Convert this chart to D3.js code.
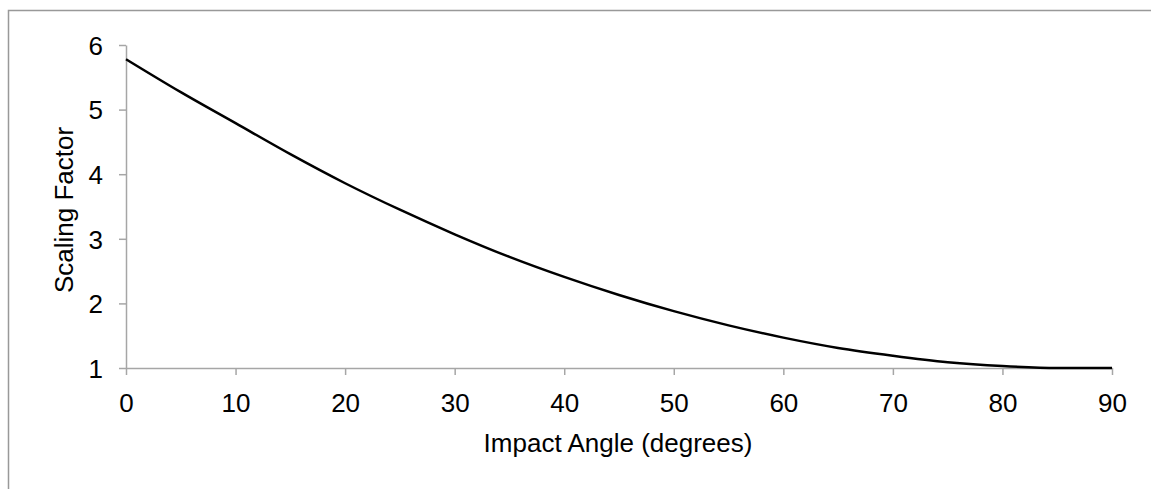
<!DOCTYPE html>
<html>
<head>
<meta charset="utf-8">
<script src="https://cdn.jsdelivr.net/npm/d3@7"></script>
<style>
  body { margin: 0; background: #fff; }
  text { font-family: "Liberation Sans", Arial, sans-serif; }
</style>
</head>
<body>
<div id="canvas"></div>
<script>
// angles (degrees) and scaling factor
const angles = [0, 5, 10, 15, 20, 25, 30, 35, 40, 45, 50, 55, 60, 65, 70, 75, 80, 85, 90];
const factors = [5.78, 5.27, 4.79, 4.31, 3.86, 3.45, 3.07, 2.72, 2.41, 2.13, 1.88, 1.66, 1.47, 1.31, 1.19, 1.09, 1.03, 1.0, 1.0];
const xTicks = [0, 10, 20, 30, 40, 50, 60, 70, 80, 90];
const yTicks = [1, 2, 3, 4, 5, 6];

const dims = { width: 1151, height: 489 };
const margin = { top: 45, right: 39, bottom: 121, left: 126 };
const w = dims.width - margin.left - margin.right;
const h = dims.height - margin.top - margin.bottom;
const fontSize = "26px";

const svg = d3
  .select("#canvas")
  .append("svg")
  .attr("width", dims.width)
  .attr("height", dims.height);

// chart frame (runs off the bottom/right of the picture)
svg
  .append("rect")
  .attr("x", 8.5)
  .attr("y", 10.5)
  .attr("width", 1160)
  .attr("height", 500)
  .attr("fill", "none")
  .attr("stroke", "#999")
  .attr("stroke-width", 1.5);

const graph = svg
  .append("g")
  .attr("transform", `translate(${margin.left}, ${margin.top})`);

const xScale = d3.scaleLinear().domain([0, 90]).range([0, w]);
const yScale = d3.scaleLinear().domain([1, 6]).range([h, 0]);

const xAxis = d3
  .axisBottom(xScale)
  .tickValues(xTicks)
  .tickFormat(d3.format("d"))
  .tickSizeInner(7)
  .tickSizeOuter(0)
  .tickPadding(19);
const yAxis = d3
  .axisLeft(yScale)
  .tickValues(yTicks)
  .tickFormat(d3.format("d"))
  .tickSizeInner(7)
  .tickSizeOuter(0)
  .tickPadding(16);

const xAxisGroup = graph.append("g").attr("transform", `translate(0, ${h})`).call(xAxis);
const yAxisGroup = graph.append("g").call(yAxis);

[xAxisGroup, yAxisGroup].forEach(g => {
  g.selectAll("path, line").attr("stroke", "#a6a6a6").attr("stroke-width", 1.5);
  g.selectAll("text").attr("fill", "#000").style("font-size", fontSize);
});
xAxisGroup.selectAll("text").attr("dy", "0.71em");
yAxisGroup.selectAll("text").attr("dy", "0.36em");

const line = d3
  .line()
  .x(d => xScale(d[0]))
  .y(d => yScale(d[1]))
  .curve(d3.curveMonotoneX);

graph
  .append("path")
  .datum(angles.map((a, i) => [a, factors[i]]))
  .attr("d", line)
  .attr("fill", "none")
  .attr("stroke", "#000")
  .attr("stroke-width", 2.5);

// axis titles
svg
  .append("text")
  .attr("x", 618)
  .attr("y", 452)
  .attr("text-anchor", "middle")
  .style("font-size", fontSize)
  .text("Impact Angle (degrees)");

svg
  .append("text")
  .attr("transform", "translate(73, 210) rotate(-90)")
  .attr("text-anchor", "middle")
  .style("font-size", fontSize)
  .text("Scaling Factor");
</script>
</body>
</html>
